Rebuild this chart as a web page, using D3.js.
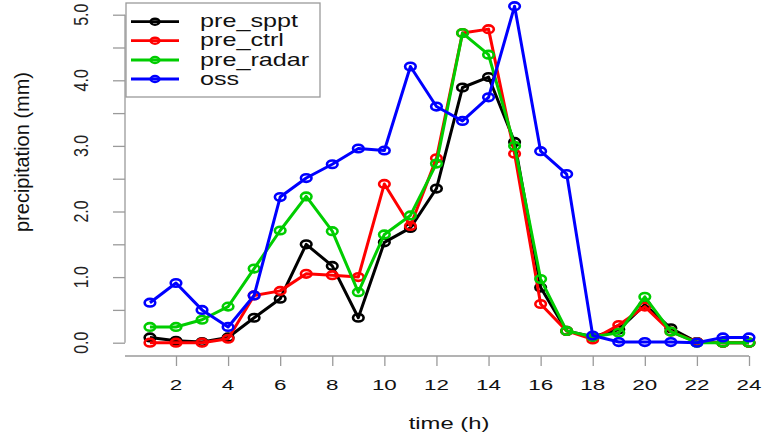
<!DOCTYPE html>
<html>
<head>
<meta charset="utf-8">
<script src="https://cdn.jsdelivr.net/npm/d3@7/dist/d3.min.js"></script>
<style>
  html, body { margin: 0; padding: 0; background: #fff; }
  svg { display: block; font-family: "Liberation Sans", Arial, Helvetica, sans-serif; }
</style>
</head>
<body>
<svg id="chart" width="762" height="436"></svg>
<script>
// ---- data ----
const hours = [1,2,3,4,5,6,7,8,9,10,11,12,13,14,15,16,17,18,19,20,21,22,23,24];
const pre_sppt  = [0.08,0.03,0.01,0.08,0.38,0.67,1.50,1.17,0.38,1.53,1.75,2.35,3.89,4.05,3.06,0.84,0.18,0.09,0.20,0.58,0.22,0.01,0.00,0.00];
const pre_ctrl  = [0.00,0.00,0.00,0.06,0.72,0.79,1.05,1.03,1.00,2.42,1.78,2.81,4.72,4.78,2.88,0.59,0.18,0.05,0.27,0.55,0.17,0.01,0.00,0.00];
const pre_radar = [0.24,0.24,0.35,0.55,1.13,1.71,2.23,1.70,0.77,1.65,1.94,2.73,4.72,4.39,3.00,0.97,0.18,0.09,0.15,0.70,0.17,0.00,0.00,0.00];
const oss       = [0.61,0.91,0.50,0.24,0.72,2.22,2.51,2.72,2.96,2.93,4.21,3.60,3.38,3.74,5.13,2.92,2.57,0.11,0.01,0.01,0.01,0.00,0.08,0.08];
const seriesNames = ["pre_sppt","pre_ctrl","pre_radar","oss"];
const seriesColors = ["#000000","#ff0000","#00cd00","#0000ff"];
const xTickValues = [2,4,6,8,10,12,14,16,18,20,22,24];
const yTickValues = [0,0.5,1,1.5,2,2.5,3,3.5,4,4.5,5];
const yTickLabels = ["0.0","","1.0","","2.0","","3.0","","4.0","","5.0"];
const xTitle = "time (h)";
const yTitle = "precipitation (mm)";

const seriesData = [pre_sppt, pre_ctrl, pre_radar, oss];

// ---- scales ----
const x = d3.scaleLinear().domain([0, 24]).range([123.9, 749]);
const y = d3.scaleLinear().domain([0, 5]).range([342.7, 14.7]);

const svg = d3.select("#chart");
const axisColor = "#9a9a9a";

// y axis
const yAxis = svg.append("g").attr("transform", "translate(125,0)")
  .call(d3.axisLeft(y).tickValues(yTickValues).tickSize(12).tickFormat(""));
yAxis.select(".domain").attr("stroke", axisColor).attr("stroke-width", 1.3).attr("d", `M0,${y(0)}V${y(5)}`);
yAxis.selectAll(".tick line").attr("stroke", axisColor).attr("stroke-width", 1.3);
svg.append("g").selectAll("text").data(yTickValues).join("text")
  .attr("transform", d => `translate(88,${y(d)}) scale(1.23,1) rotate(-90)`)
  .attr("text-anchor", "middle")
  .attr("font-size", 16)
  .attr("fill", "#222")
  .text((d, i) => yTickLabels[i]);

// x axis
const xAxis = svg.append("g").attr("transform", "translate(0,356)")
  .call(d3.axisBottom(x).tickValues(xTickValues).tickSize(10).tickFormat(""));
xAxis.select(".domain").attr("stroke", axisColor).attr("stroke-width", 1.3).attr("d", `M125,0H${x(24)}`);
xAxis.selectAll(".tick line").attr("stroke", axisColor).attr("stroke-width", 1.3);
svg.append("g").selectAll("text").data(xTickValues).join("text")
  .attr("transform", d => `translate(${x(d)},390) scale(1.6,1)`)
  .attr("text-anchor", "middle")
  .attr("font-size", 14)
  .attr("fill", "#111")
  .text(d => d);

// titles
svg.append("text")
  .attr("transform", `translate(449,429) scale(1.4,1)`)
  .attr("text-anchor", "middle").attr("font-size", 17).attr("fill", "#111")
  .text(xTitle);
svg.append("text")
  .attr("transform", `translate(29,152) rotate(-90)`)
  .attr("text-anchor", "middle").attr("font-size", 20).attr("fill", "#111")
  .text(yTitle);

// series
const line = d3.line().x((d, i) => x(hours[i])).y(d => y(d));
seriesData.forEach((vals, si) => {
  const g = svg.append("g");
  g.append("path").datum(vals)
    .attr("d", line)
    .attr("fill", "none")
    .attr("stroke", seriesColors[si])
    .attr("stroke-width", 3)
    .attr("stroke-linejoin", "round");
  g.selectAll("ellipse").data(vals).join("ellipse")
    .attr("cx", (d, i) => x(hours[i]))
    .attr("cy", d => y(d))
    .attr("rx", 5.3).attr("ry", 3.8)
    .attr("fill", "none")
    .attr("stroke", seriesColors[si])
    .attr("stroke-width", 2.6);
});

// legend
const leg = svg.append("g");
leg.append("rect").attr("x", 126).attr("y", 3).attr("width", 194).attr("height", 94)
  .attr("fill", "#fff").attr("stroke", axisColor).attr("stroke-width", 1.3);
const rowY = [21.7, 40.7, 60, 79];
seriesNames.forEach((name, i) => {
  leg.append("line").attr("x1", 131).attr("x2", 179).attr("y1", rowY[i]).attr("y2", rowY[i])
    .attr("stroke", seriesColors[i]).attr("stroke-width", 2.8);
  leg.append("ellipse").attr("cx", 155).attr("cy", rowY[i]).attr("rx", 4.4).attr("ry", 3.0)
    .attr("fill", "none").attr("stroke", seriesColors[i]).attr("stroke-width", 2.4);
  leg.append("text")
    .attr("transform", `translate(200,${rowY[i] + 5.6}) scale(1.4,1)`)
    .attr("font-size", 18).attr("fill", "#111")
    .text(name);
});
</script>
</body>
</html>
